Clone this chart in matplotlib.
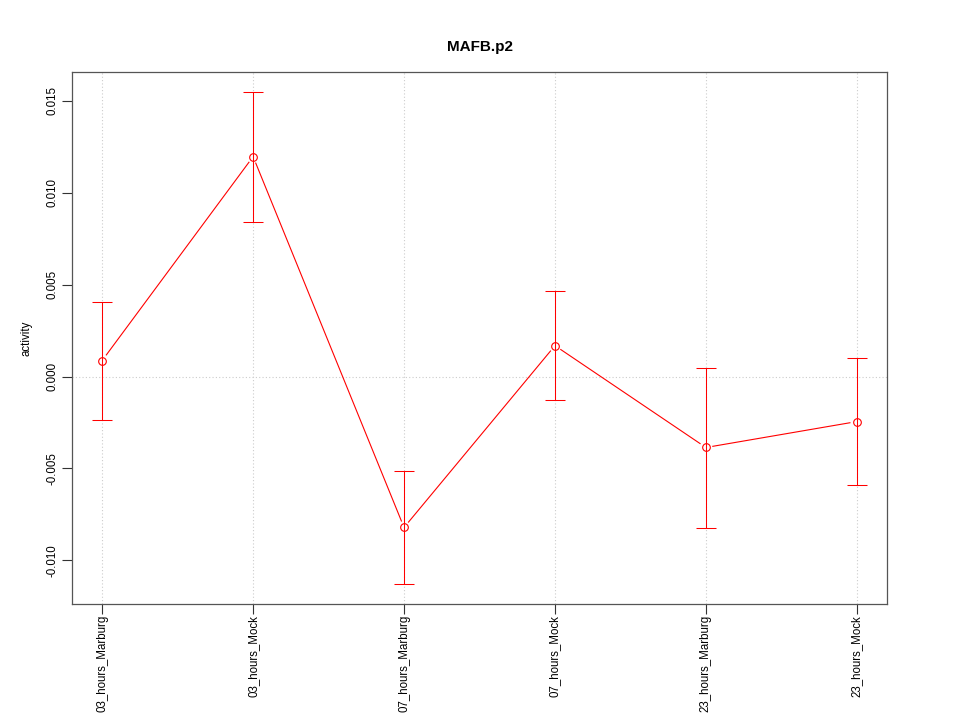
import matplotlib
matplotlib.use("Agg")
import matplotlib.pyplot as plt
import numpy as np

categories = ["03_hours_Marburg", "03_hours_Mock", "07_hours_Marburg",
              "07_hours_Mock", "23_hours_Marburg", "23_hours_Mock"]
values = [0.00087, 0.01196, -0.00821, 0.00168, -0.00386, -0.00245]
upper = [0.00408, 0.01549, -0.00516, 0.00467, 0.00049, 0.00103]
lower = [-0.00234, 0.00842, -0.0113, -0.0013, -0.00826, -0.00592]
yticks = [-0.010, -0.005, 0.000, 0.005, 0.010, 0.015]
ytick_labels = ["-0.010", "-0.005", "0.000", "0.005", "0.010", "0.015"]

plt.rcParams['font.family'] = ['Liberation Sans', 'DejaVu Sans']

fig = plt.figure(figsize=(9.6, 7.2), dpi=100)
ax = fig.add_axes([72/960, 1-604/720, (887-72)/960, (604-72)/720])

x = np.arange(1, len(categories) + 1)
ymin, ymax = min(lower), max(upper)
rng = ymax - ymin
ax.set_xlim(1 - 0.04 * (len(x) - 1), len(x) + 0.04 * (len(x) - 1))
ax.set_ylim(ymin - 0.04 * rng, ymax + 0.04 * rng)

# grid
for xi in x:
    ax.axvline(xi, color="#cccccc", lw=0.8, ls=(0, (1, 2)), zorder=0)
ax.axhline(0, color="#cccccc", lw=0.8, ls=(0, (1, 2)), zorder=0)

# error bars
ax.errorbar(x, values, yerr=[np.array(values) - np.array(lower), np.array(upper) - np.array(values)],
            fmt="none", ecolor="red", elinewidth=0.75, capsize=7, capthick=0.75, zorder=2)

# lines with gaps around points (type "b")
fig.canvas.draw()
pts = ax.transData.transform(np.column_stack([x, values]))
gap = 7.0
inv = ax.transData.inverted()
for i in range(len(pts) - 1):
    p0, p1 = pts[i], pts[i + 1]
    d = p1 - p0
    L = np.hypot(*d)
    u = d / L
    a = inv.transform(p0 + u * gap)
    b = inv.transform(p1 - u * gap)
    ax.plot([a[0], b[0]], [a[1], b[1]], color="red", lw=0.8, zorder=3)
ax.plot(x, values, ls="none", marker="o", mfc="none", mec="red", ms=5.5, mew=0.8, zorder=4)

ax.set_xticks(x)
ax.set_xticklabels(categories, rotation=90, fontsize=8.3)
ax.set_yticks(yticks)
ax.set_yticklabels(ytick_labels, rotation=90, va="center", fontsize=8.3)
ax.tick_params(axis="both", length=7, width=0.8, color="#333333", pad=3)
ax.tick_params(axis="x", pad=1)
for s in ax.spines.values():
    s.set_color("#555555")
    s.set_linewidth(0.9)
ax.set_ylabel("activity", fontsize=8.3)
ax.yaxis.set_label_coords(-0.049, 0.5)
ax.set_title("MAFB.p2", fontsize=11, fontweight="bold", pad=15)

fig.savefig("out.png", dpi=100)
